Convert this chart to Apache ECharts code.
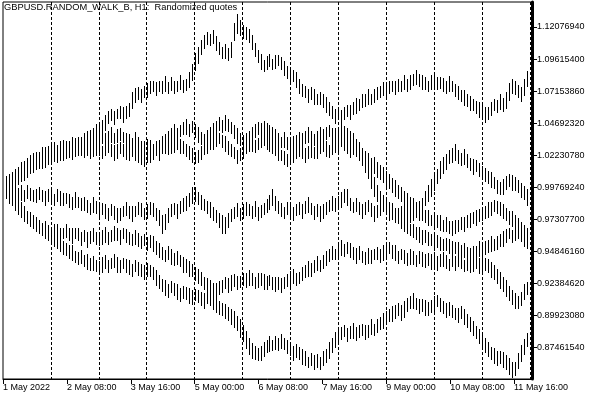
<!DOCTYPE html>
<html><head><meta charset="utf-8">
<script src="https://cdn.jsdelivr.net/npm/echarts@6/dist/echarts.min.js"></script>
<style>html,body{margin:0;padding:0;background:#fff}#c{width:600px;height:400px}</style>
</head><body><div id="c"></div>
<script>
const chartTitle = 'GBPUSD.RANDOM_WALK_B, H1:  Randomized quotes';
const timeLabels = ['1 May 2022','2 May 08:00','3 May 16:00','5 May 00:00','6 May 08:00','7 May 16:00','9 May 00:00','10 May 08:00','11 May 16:00'];
const priceTicks = [0.87461540,0.89923080,0.92384620,0.94846160,0.97307700,0.99769240,1.02230780,1.04692320,1.07153860,1.09615400,1.12076940];

// Bar median price ((high+low)/2) of each walk, one bar every 90 minutes from 1 May 01:30
const walkA_median = [1.001,1.003,1.004,1.007,1.008,1.011,1.013,1.015,1.017,1.018,
1.020,1.021,1.023,1.024,1.024,1.026,1.028,1.026,1.028,1.029,
1.029,1.028,1.031,1.031,1.030,1.032,1.034,1.035,1.037,1.038,
1.041,1.043,1.044,1.047,1.051,1.053,1.051,1.054,1.055,1.053,
1.055,1.057,1.064,1.068,1.070,1.068,1.071,1.072,1.074,1.075,
1.073,1.075,1.074,1.077,1.074,1.077,1.074,1.075,1.078,1.075,
1.076,1.080,1.086,1.094,1.099,1.105,1.109,1.112,1.111,1.113,
1.108,1.104,1.101,1.102,1.100,1.103,1.117,1.123,1.120,1.117,
1.116,1.114,1.109,1.103,1.098,1.094,1.091,1.093,1.095,1.092,
1.094,1.095,1.093,1.089,1.086,1.084,1.083,1.080,1.075,1.072,
1.071,1.068,1.070,1.067,1.065,1.066,1.064,1.061,1.058,1.055,
1.052,1.054,1.051,1.054,1.056,1.055,1.058,1.060,1.061,1.064,
1.064,1.067,1.065,1.068,1.070,1.071,1.073,1.071,1.074,1.075,
1.074,1.076,1.075,1.078,1.076,1.078,1.080,1.082,1.080,1.078,
1.077,1.075,1.078,1.080,1.077,1.078,1.076,1.074,1.077,1.075,
1.072,1.070,1.068,1.066,1.064,1.062,1.061,1.059,1.057,1.055,
1.053,1.054,1.058,1.061,1.060,1.063,1.061,1.064,1.071,1.075,
1.074,1.071,1.069,1.074,1.081];
const walkB_median = [0.999,1.001,1.004,1.006,1.008,1.010,1.012,1.014,1.016,1.018,
1.018,1.020,1.021,1.022,1.021,1.024,1.025,1.024,1.026,1.027,
1.028,1.026,1.028,1.030,1.029,1.031,1.031,1.030,1.032,1.033,
1.031,1.034,1.035,1.034,1.036,1.038,1.035,1.037,1.038,1.036,
1.034,1.033,1.031,1.034,1.031,1.029,1.028,1.030,1.028,1.026,
1.028,1.029,1.031,1.034,1.035,1.038,1.040,1.038,1.041,1.043,
1.044,1.041,1.044,1.041,1.038,1.035,1.034,1.036,1.039,1.041,
1.044,1.046,1.044,1.047,1.045,1.043,1.040,1.037,1.034,1.032,
1.034,1.036,1.038,1.041,1.043,1.041,1.044,1.042,1.040,1.038,
1.037,1.034,1.032,1.034,1.031,1.029,1.031,1.033,1.035,1.034,
1.036,1.038,1.035,1.034,1.036,1.038,1.037,1.039,1.041,1.038,
1.037,1.039,1.041,1.040,1.038,1.035,1.033,1.030,1.026,1.021,
1.016,1.011,1.004,0.998,0.993,0.989,0.986,0.984,0.981,0.978,
0.976,0.974,0.971,0.969,0.967,0.965,0.964,0.962,0.961,0.959,
0.960,0.958,0.957,0.955,0.956,0.954,0.953,0.954,0.952,0.951,
0.951,0.950,0.948,0.949,0.947,0.946,0.947,0.948,0.950,0.949,
0.951,0.952,0.954,0.953,0.955,0.957,0.958,0.960,0.962,0.960,
0.962,0.963,0.961,0.958,0.955];
const walkC_median = [0.997,0.995,0.994,0.994,0.992,0.993,0.991,0.994,0.992,0.991,
0.991,0.993,0.991,0.989,0.991,0.990,0.988,0.991,0.989,0.988,
0.989,0.987,0.985,0.988,0.986,0.984,0.985,0.983,0.981,0.984,
0.982,0.980,0.981,0.979,0.977,0.980,0.978,0.976,0.977,0.979,
0.981,0.978,0.977,0.979,0.981,0.980,0.977,0.979,0.981,0.980,
0.977,0.974,0.969,0.971,0.976,0.980,0.981,0.979,0.982,0.984,
0.985,0.988,0.991,0.992,0.989,0.986,0.984,0.982,0.980,0.977,
0.975,0.972,0.969,0.968,0.972,0.976,0.978,0.980,0.977,0.979,
0.981,0.980,0.978,0.981,0.977,0.979,0.981,0.983,0.986,0.990,
0.985,0.982,0.980,0.978,0.981,0.979,0.977,0.980,0.981,0.979,
0.982,0.984,0.981,0.978,0.980,0.977,0.979,0.981,0.983,0.985,
0.984,0.986,0.988,0.991,0.990,0.984,0.982,0.984,0.981,0.979,
0.981,0.983,0.980,0.977,0.979,0.981,0.983,0.981,0.978,0.980,
0.977,0.976,0.978,0.980,0.977,0.975,0.977,0.979,0.981,0.984,
0.989,0.993,0.997,1.001,1.006,1.011,1.014,1.017,1.021,1.022,
1.024,1.021,1.019,1.021,1.018,1.015,1.013,1.014,1.011,1.009,
1.007,1.005,1.003,1.001,0.998,0.997,0.998,1.001,1.003,1.001,
1.000,0.998,0.995,0.993,0.990];
const walkD_median = [0.995,0.991,0.989,0.986,0.983,0.980,0.977,0.974,0.972,0.971,
0.968,0.967,0.965,0.966,0.964,0.962,0.964,0.963,0.961,0.962,
0.964,0.961,0.960,0.962,0.961,0.958,0.960,0.957,0.959,0.961,
0.958,0.957,0.959,0.961,0.958,0.960,0.962,0.961,0.959,0.962,
0.960,0.958,0.957,0.959,0.957,0.955,0.957,0.954,0.956,0.954,
0.951,0.949,0.947,0.945,0.947,0.944,0.942,0.943,0.941,0.938,
0.937,0.935,0.934,0.931,0.929,0.927,0.924,0.922,0.921,0.919,
0.918,0.920,0.921,0.924,0.922,0.924,0.926,0.924,0.925,0.927,
0.926,0.928,0.927,0.924,0.926,0.927,0.925,0.924,0.926,0.924,
0.923,0.924,0.922,0.924,0.926,0.927,0.929,0.927,0.928,0.931,
0.933,0.935,0.934,0.937,0.939,0.937,0.940,0.943,0.945,0.947,
0.946,0.948,0.951,0.949,0.951,0.949,0.947,0.945,0.947,0.944,
0.943,0.945,0.944,0.946,0.947,0.945,0.947,0.949,0.951,0.948,
0.947,0.944,0.946,0.944,0.942,0.944,0.943,0.941,0.944,0.942,
0.941,0.942,0.940,0.941,0.939,0.941,0.942,0.940,0.938,0.941,
0.939,0.941,0.940,0.937,0.939,0.937,0.938,0.940,0.937,0.936,
0.938,0.937,0.934,0.932,0.929,0.926,0.923,0.920,0.916,0.913,
0.910,0.909,0.912,0.917,0.920];
const walkE_median = [0.994,0.991,0.988,0.984,0.982,0.980,0.977,0.975,0.973,0.971,
0.969,0.967,0.965,0.963,0.961,0.959,0.957,0.955,0.953,0.951,
0.950,0.948,0.947,0.944,0.943,0.944,0.941,0.940,0.938,0.939,
0.937,0.936,0.938,0.940,0.937,0.939,0.941,0.938,0.937,0.939,
0.937,0.936,0.934,0.937,0.935,0.934,0.932,0.934,0.933,0.931,
0.928,0.925,0.922,0.920,0.918,0.921,0.919,0.917,0.915,0.917,
0.916,0.914,0.913,0.915,0.914,0.912,0.910,0.913,0.911,0.909,
0.907,0.905,0.904,0.902,0.900,0.898,0.896,0.893,0.889,0.885,
0.880,0.875,0.872,0.870,0.869,0.870,0.873,0.875,0.877,0.876,
0.878,0.877,0.879,0.877,0.875,0.873,0.870,0.872,0.870,0.867,
0.866,0.863,0.865,0.863,0.864,0.862,0.866,0.868,0.872,0.876,
0.880,0.883,0.885,0.887,0.884,0.886,0.887,0.885,0.887,0.888,
0.886,0.887,0.890,0.888,0.891,0.893,0.895,0.897,0.899,0.900,
0.902,0.904,0.901,0.904,0.907,0.909,0.910,0.908,0.906,0.907,
0.905,0.904,0.906,0.908,0.910,0.907,0.905,0.903,0.904,0.902,
0.900,0.899,0.901,0.898,0.895,0.892,0.889,0.886,0.883,0.880,
0.876,0.873,0.870,0.868,0.866,0.867,0.865,0.863,0.860,0.857,
0.858,0.864,0.870,0.875,0.880];
const walkF_median = [0.998,1.000,1.001,1.003,1.004,1.006,1.008,1.010,1.012,1.014,
1.015,1.017,1.018,1.018,1.020,1.021,1.021,1.022,1.023,1.024,
1.024,1.025,1.024,1.026,1.028,1.026,1.025,1.027,1.024,1.026,
1.028,1.026,1.024,1.027,1.028,1.026,1.024,1.025,1.028,1.026,
1.024,1.023,1.025,1.024,1.021,1.020,1.018,1.021,1.022,1.024,
1.026,1.024,1.028,1.029,1.027,1.028,1.030,1.031,1.029,1.028,
1.026,1.024,1.022,1.020,1.021,1.024,1.027,1.029,1.031,1.032,
1.034,1.035,1.033,1.031,1.028,1.026,1.024,1.021,1.023,1.025,
1.028,1.030,1.031,1.029,1.031,1.033,1.034,1.032,1.030,1.028,
1.027,1.024,1.022,1.020,1.018,1.021,1.022,1.024,1.026,1.024,
1.022,1.024,1.026,1.024,1.025,1.028,1.029,1.027,1.025,1.028,
1.029,1.031,1.033,1.031,1.028,1.026,1.028,1.025,1.023,1.021,
1.020,1.018,1.015,1.014,1.011,1.009,1.007,1.004,1.002,0.999,
0.997,0.994,0.992,0.990,0.987,0.985,0.983,0.981,0.978,0.977,
0.975,0.974,0.972,0.971,0.971,0.970,0.968,0.969,0.967,0.966,
0.967,0.968,0.970,0.969,0.971,0.972,0.974,0.974,0.976,0.977,
0.978,0.980,0.981,0.983,0.982,0.981,0.979,0.977,0.974,0.973,
0.971,0.968,0.966,0.963,0.960];

// Bar range (high - low) of each walk, in units of 0.001
const walkA_range = [10,9,11,8,10,12,9,10,11,9,10,8,11,9,10,12,9,8,11,10,9,11,10,8,12,9,10,11,9,10,11,9,10,12,10,9,11,8,10,12,10,11,13,12,10,11,9,12,10,9,11,9,10,12,9,11,10,8,11,10,9,12,13,14,13,12,11,10,9,11,12,10,9,11,10,12,14,15,12,11,10,11,12,11,10,12,9,11,10,9,11,9,10,12,10,11,9,12,11,10,9,11,10,12,9,10,11,12,11,10,11,9,12,10,9,11,10,12,9,11,10,12,9,11,10,9,11,12,10,9,11,10,9,12,10,11,9,12,10,11,10,9,11,12,10,9,11,10,12,9,10,11,9,12,10,11,9,10,12,11,12,10,11,9,10,12,11,13,14,12,11,10,12,13,12];
const walkB_range = [9,11,10,12,9,10,11,8,10,12,11,9,10,8,12,10,9,11,10,9,10,12,9,11,10,8,12,10,11,9,12,10,9,11,10,12,9,11,10,8,10,11,9,12,10,9,11,10,12,9,11,10,12,9,11,10,12,11,9,10,12,10,9,11,12,10,9,11,10,12,9,11,10,12,10,9,11,12,10,11,10,9,12,11,10,12,9,10,11,12,11,10,9,12,10,11,12,9,10,11,10,12,11,9,10,12,11,10,9,11,12,10,11,9,10,11,12,10,13,14,15,14,16,15,13,12,11,12,10,11,12,10,11,12,10,9,11,10,12,11,10,11,9,12,10,11,9,10,12,11,9,11,10,12,9,10,11,9,12,10,11,10,12,9,11,10,12,11,9,10,12,10,11,12,10];
const walkC_range = [12,10,11,9,10,12,9,11,10,9,11,10,9,12,10,11,9,10,12,10,9,11,10,12,9,10,11,10,9,12,10,11,9,12,10,9,11,12,10,9,11,10,12,9,10,11,9,12,10,11,10,13,14,12,11,10,9,12,10,11,12,11,13,12,10,11,9,10,12,11,10,12,14,13,11,10,9,11,10,12,11,9,10,12,11,10,9,11,12,13,12,10,11,9,10,12,11,9,10,11,10,12,9,11,10,12,11,10,9,12,11,10,12,11,13,10,9,11,10,12,10,9,11,12,10,11,9,10,12,11,9,11,10,12,10,9,11,10,12,11,12,13,14,13,12,14,13,12,11,12,13,11,10,12,11,10,12,9,11,10,11,10,12,9,11,10,12,11,10,12,11,10,12,11,13];
const walkD_range = [10,12,11,9,10,12,11,9,10,11,9,11,10,12,9,10,11,12,10,9,11,10,12,9,10,11,9,12,10,11,10,9,11,12,10,9,11,10,12,9,11,10,9,12,11,10,9,11,10,12,11,12,10,9,11,12,10,11,9,12,11,12,10,11,12,11,10,12,11,10,12,11,10,9,11,12,10,11,9,10,11,12,10,9,11,10,12,11,9,10,12,10,11,9,10,12,11,10,9,11,10,12,11,10,12,9,11,12,10,11,9,11,12,10,9,11,10,12,11,9,10,12,11,9,10,11,12,10,9,11,12,10,9,11,10,12,11,9,10,12,11,10,12,9,11,10,12,11,9,10,12,10,11,9,12,10,11,10,12,11,10,11,12,11,12,13,12,13,12,11,12,10,11,12,10];
const walkE_range = [11,12,10,9,11,10,12,9,11,10,12,10,9,11,10,12,11,9,10,11,10,11,12,9,10,11,9,12,10,11,9,10,12,11,10,9,11,12,10,9,11,12,10,9,11,10,12,11,9,10,12,11,10,12,11,9,10,12,11,10,10,12,11,9,10,11,12,10,9,11,12,11,10,12,11,12,13,12,14,13,14,13,12,11,10,12,11,10,12,9,11,10,12,9,11,10,12,11,10,12,11,9,10,12,11,10,12,11,13,12,12,11,10,9,11,10,12,11,10,9,11,10,12,9,11,10,12,11,10,12,11,10,12,13,11,10,12,9,11,10,12,11,10,12,9,11,10,12,11,10,9,11,10,12,11,12,11,10,12,11,12,11,10,12,11,10,12,11,13,12,11,12,13,12,11];
const walkF_range = [11,9,10,12,10,9,11,10,8,11,9,10,12,11,9,10,8,11,10,12,10,9,11,10,12,9,10,11,9,10,12,9,10,11,8,10,12,11,9,10,11,10,9,12,10,11,9,10,12,11,9,12,10,11,9,10,12,9,11,10,10,11,12,9,10,11,9,12,10,11,11,9,10,12,11,10,9,11,10,12,9,11,12,10,9,11,10,12,11,9,10,12,9,11,10,9,12,10,11,10,11,10,12,9,11,10,9,12,10,11,10,12,9,11,10,12,11,9,10,12,11,12,10,13,12,11,13,12,11,12,13,11,12,10,12,11,13,10,12,11,10,12,9,11,10,12,9,11,10,12,11,9,10,12,10,11,9,12,10,11,10,12,11,9,10,11,12,10,11,12,11,12,10,11,12];

const walks = [[walkA_median, walkA_range],[walkB_median, walkB_range],[walkC_median, walkC_range],
               [walkD_median, walkD_range],[walkE_median, walkE_range],[walkF_median, walkF_range]];

const BAR_HOURS = 1.5;
const font = '"Liberation Sans", Arial, sans-serif';

function barData(med, rng){
  return med.map((m,i)=>{ const h = rng[i]/2000; return [BAR_HOURS*(i+1), m - h, m + h]; });
}
function renderItem(params, api){
  const lo = api.coord([api.value(0), api.value(1)]);
  const hi = api.coord([api.value(0), api.value(2)]);
  const x = Math.round(lo[0]);
  const yTop = Math.round(hi[1]), yBot = Math.round(lo[1]);
  return {type:'rect', shape:{x:x, y:yTop, width:1, height:Math.max(1, yBot - yTop)}, style:{fill:'#000'}};
}
const labelHours = timeLabels.map((t,i)=>i*32);
const chart = echarts.init(document.getElementById('c'), null, {renderer:'canvas'});
chart.setOption({
  animation:false,
  backgroundColor:'#fff',
  grid:{left:2, top:2, right:68, bottom:21, show:true, borderColor:'#000', borderWidth:1, containLabel:false},
  graphic:[{type:'text', left:4, top:3, style:{text:chartTitle, font:'9.3px '+font, fill:'#000'}}],
  xAxis:[
    {type:'value', min:0, max:265, position:'bottom',
     axisLine:{show:true, onZero:false, lineStyle:{color:'#000', width:1}},
     axisTick:{show:true, customValues:labelHours, length:5, lineStyle:{color:'#000'}},
     axisLabel:{show:true, customValues:labelHours, formatter:v=>timeLabels[Math.round(v/32)], align:'left', color:'#000', fontSize:9, fontFamily:font, margin:4},
     splitLine:{show:false}},
    {type:'value', min:0, max:265, interval:24, position:'bottom', axisLine:{show:false, onZero:false}, axisTick:{show:false}, axisLabel:{show:false},
     splitLine:{show:true, showMinLine:false, lineStyle:{color:'#000', width:1, type:[3,2]}}}
  ],
  yAxis:{type:'value', position:'right', min:0.85026, max:1.13998,
    axisLine:{show:true, onZero:false, lineStyle:{color:'#000', width:3}},
    axisTick:{show:true, customValues:priceTicks, length:5, lineStyle:{color:'#000'}},
    axisLabel:{show:true, customValues:priceTicks, formatter:v=>v.toFixed(8), color:'#000', fontSize:9, fontFamily:font, margin:5},
    splitLine:{show:false}},
  series: walks.map(w=>({type:'custom', renderItem, data:barData(w[0], w[1]), xAxisIndex:0, yAxisIndex:0, clip:true, silent:true}))
});
</script></body></html>
